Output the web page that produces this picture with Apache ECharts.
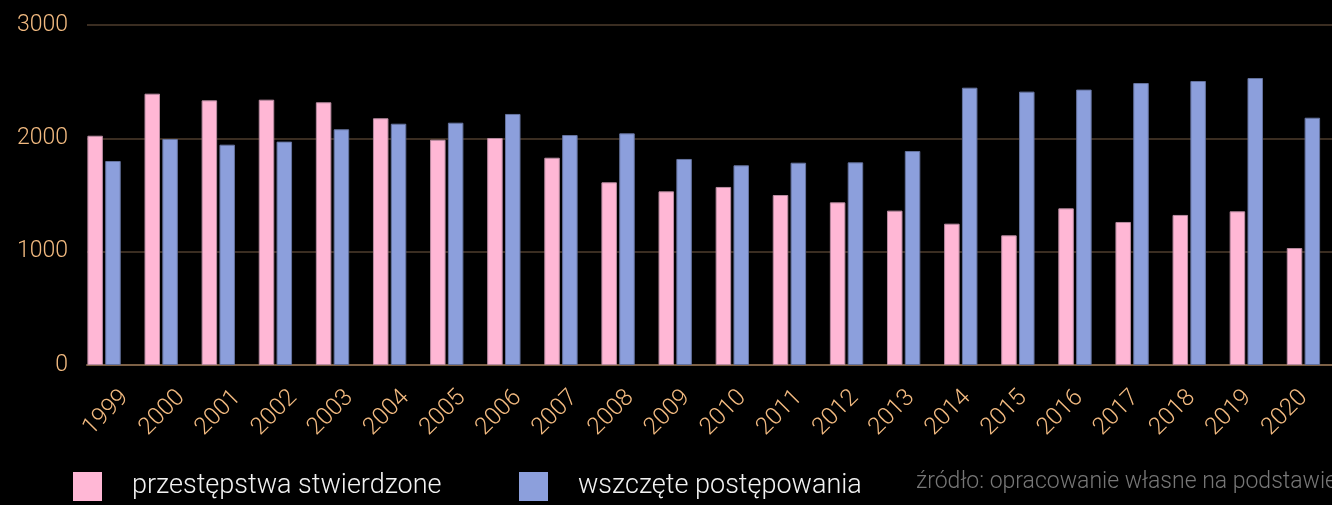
<!DOCTYPE html>
<html>
<head>
<meta charset="utf-8">
<script src="https://cdn.jsdelivr.net/npm/echarts@6/dist/echarts.min.js"></script>
<style>
html,body{margin:0;padding:0;background:#000;}
#chart{width:1332px;height:505px;}
</style>
</head>
<body>
<div id="chart"></div>
<script>
var years = ['1999','2000','2001','2002','2003','2004','2005','2006','2007','2008','2009','2010','2011','2012','2013','2014','2015','2016','2017','2018','2019','2020'];
var stwierdzone = [2023, 2394, 2335, 2341, 2318, 2177, 1988, 2003, 1829, 1612, 1532, 1571, 1500, 1435, 1362, 1247, 1144, 1382, 1262, 1324, 1356, 1032];
var wszczete = [1800, 1994, 1944, 1971, 2080, 2129, 2138, 2215, 2029, 2044, 1818, 1762, 1785, 1788, 1888, 2447, 2412, 2430, 2488, 2506, 2532, 2182];
var seriesNames = ['przestępstwa stwierdzone', 'wszczęte postępowania'];
var yTicks = [0, 1000, 2000, 3000];
var sourceText = 'źródło: opracowanie własne na podstawie';

var FONT = 'Roboto';
var ORANGE = '#f2ba80';

var chart = echarts.init(document.getElementById('chart'), null, {renderer: 'canvas'});
var option = {
  backgroundColor: '#000',
  animation: false,
  textStyle: {fontFamily: FONT},
  grid: [
    {left: 75.5, right: -2.4, top: 25, bottom: 140},   // bars
    {left: 96.9, right: -23.7, top: 25, bottom: 140},  // x labels
    {left: 87, right: -20, top: 25, bottom: 140}       // y axis & gridlines
  ],
  xAxis: [
    {type: 'category', gridIndex: 0, data: years, boundaryGap: true,
     axisLine: {show: false}, axisTick: {show: false}, axisLabel: {show: false}, splitLine: {show: false}},
    {type: 'category', gridIndex: 1, data: years, boundaryGap: true,
     axisLine: {show: false}, axisTick: {show: false}, splitLine: {show: false},
     axisLabel: {show: true, interval: 0, rotate: 45, margin: 29, color: ORANGE, fontSize: 24, fontWeight: 300, fontFamily: FONT}},
    {type: 'category', gridIndex: 2, data: [''], boundaryGap: true, z: 1,
     axisLine: {show: true, lineStyle: {color: '#7d6146', width: 2}}, axisTick: {show: false}, axisLabel: {show: false}, splitLine: {show: false}}
  ],
  yAxis: [
    {type: 'value', gridIndex: 0, min: yTicks[0], max: yTicks[yTicks.length-1], interval: 1000,
     axisLine: {show: false}, axisTick: {show: false}, axisLabel: {show: false}, splitLine: {show: false}},
    {type: 'value', gridIndex: 1, min: yTicks[0], max: yTicks[yTicks.length-1], interval: 1000, show: false},
    {type: 'value', gridIndex: 2, min: yTicks[0], max: yTicks[yTicks.length-1], interval: 1000,
     axisLine: {show: false}, axisTick: {show: false},
     axisLabel: {show: true, margin: 19, color: ORANGE, fontSize: 23, fontWeight: 300, fontFamily: FONT,
                 formatter: function (v) { return String(v); }},
     splitLine: {show: true, lineStyle: {color: '#4e3d2d', width: 1.5}}}
  ],
  legend: [
    {left: 73, top: 472, padding: 0, itemWidth: 29, itemHeight: 29, icon: 'rect', data: [seriesNames[0]],
     itemStyle: {borderWidth: 0},
     selectedMode: false, textStyle: {color: '#f2f2f2', fontSize: 27, fontWeight: 300, fontFamily: FONT, padding: [0, 0, 0, 25]}},
    {left: 519, top: 472, padding: 0, itemWidth: 29, itemHeight: 29, icon: 'rect', data: [seriesNames[1]],
     itemStyle: {borderWidth: 0},
     selectedMode: false, textStyle: {color: '#f2f2f2', fontSize: 27, fontWeight: 300, fontFamily: FONT, padding: [0, 0, 0, 25]}}
  ],
  graphic: [
    {type: 'text', left: 916, top: 471, silent: true,
     style: {text: sourceText, fill: '#777777', fontSize: 23, fontWeight: 300, fontFamily: FONT}}
  ],
  series: [
    {name: seriesNames[0], type: 'bar', xAxisIndex: 0, yAxisIndex: 0, data: stwierdzone,
     barWidth: 15.5, barGap: '15%', z: 3,
     itemStyle: {color: '#ffb7d5', borderColor: '#b98ba0', borderWidth: 1}},
    {name: seriesNames[1], type: 'bar', xAxisIndex: 0, yAxisIndex: 0, data: wszczete,
     barWidth: 15.5, barGap: '15%', z: 3,
     itemStyle: {color: '#8c9fdc', borderColor: '#65739f', borderWidth: 1}}
  ]
};
chart.setOption(option);
</script>
</body>
</html>
